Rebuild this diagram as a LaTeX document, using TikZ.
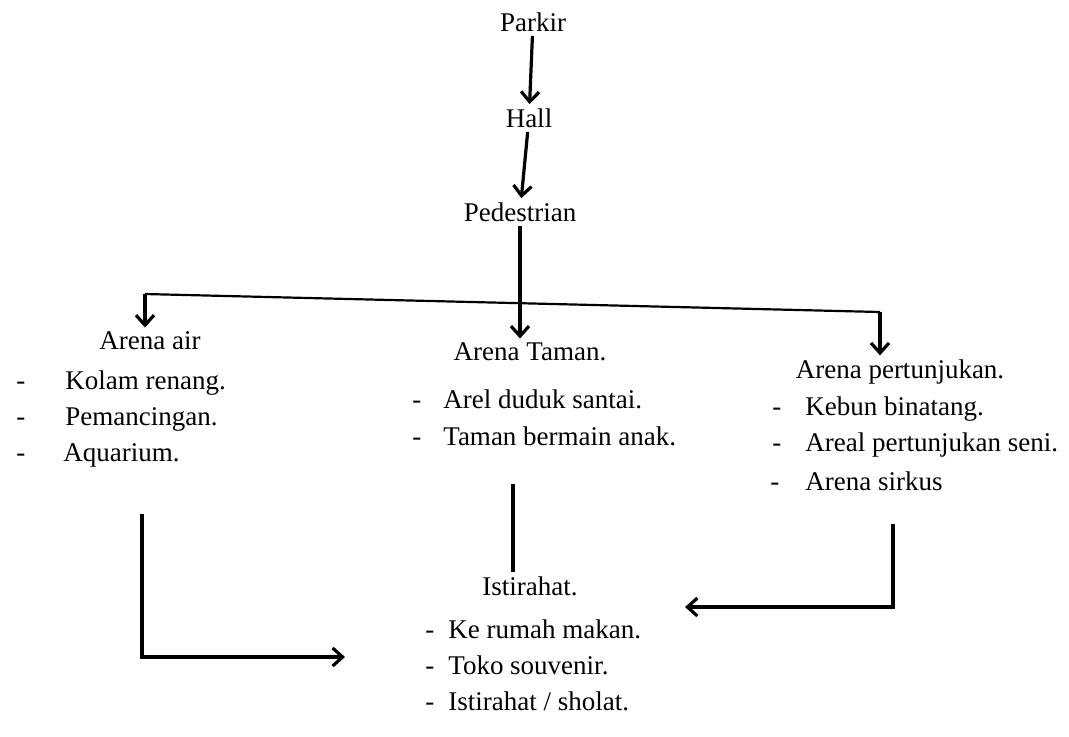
\documentclass[tikz,border=0pt]{standalone}
\usepackage{fontspec}
\setmainfont{Liberation Serif}
\usetikzlibrary{arrows.meta}
\tikzset{
  txt/.style={font=\fontsize{13.5}{16}\selectfont, inner sep=2pt},
  item/.style={txt, anchor=west},
  arr/.style={line width=1.6pt, -{Straight Barb[length=5pt,width=9pt,line width=1.6pt]}},
  ln/.style={line width=1.6pt},
}
\begin{document}
\begin{tikzpicture}[x=0.5pt,y=-0.5pt]
  \useasboundingbox (0,0) rectangle (1069,736);
  % alur utama
  \node[txt] (parkir) at (533,22) {Parkir};
  \node[txt] (hall) at (529,118) {Hall};
  \node[txt] (ped) at (520,212) {Pedestrian};
  \draw [arr] (parkir) -- (hall);
  \draw [arr] (hall) -- (ped);
  % tiga arena
  \node[txt] (air) at (150,341) {Arena air};
  \node[txt] (taman) at (530,352) {Arena Taman.};
  \node[txt] (tunjuk) at (900,372) {Arena pertunjukan.};
  \coordinate (bl) at (145,294);
  \coordinate (br) at (880,312);
  \draw [line width=1.1pt] (bl) -- (br);
  \draw [arr] (bl) -- (bl |- air.north);
  \draw [arr] (br) -- (br |- tunjuk.north);
  \draw [arr] (ped) -- (taman.north -| ped);
  % isi arena air
  \node[item] (kolam) at (12,383) {-\hspace{20pt}Kolam renang.};
  \node[item] (pancing) at (12,419) {-\hspace{20pt}Pemancingan.};
  \node[item] (aqua) at (12,455) {-\hspace{19pt}Aquarium.};
  % isi arena taman
  \node[item] (duduk) at (408,399) {-\hspace{11pt}Arel duduk santai.};
  \node[item] (main) at (408,436) {-\hspace{11pt}Taman bermain anak.};
  % isi arena pertunjukan
  \node[item] (kebun) at (768,409) {-\hspace{12pt}Kebun binatang.};
  \node[item] (seni) at (768,445) {-\hspace{12pt}Areal pertunjukan seni.};
  \node[item] (sirkus) at (766,481) {-\hspace{13pt}Arena sirkus};
  % istirahat
  \node[txt] (ist) at (530,586) {Istirahat.};
  \node[item] (makan) at (421,629) {-\hspace{7pt}Ke rumah makan.};
  \node[item] (toko) at (421,665) {-\hspace{7pt}Toko souvenir.};
  \node[item] (sholat) at (421,701) {-\hspace{7pt}Istirahat / sholat.};
  \coordinate (mt) at (513,484);
  \coordinate (la) at (142,514);
  \coordinate (le) at (345,657);
  \coordinate (ra) at (893,524);
  \coordinate (re) at (685,607);
  \draw [ln] (mt) -- (ist.north -| mt);
  \draw [arr] (la) |- (le);
  \draw [arr] (ra) |- (re);
\end{tikzpicture}
\end{document}
